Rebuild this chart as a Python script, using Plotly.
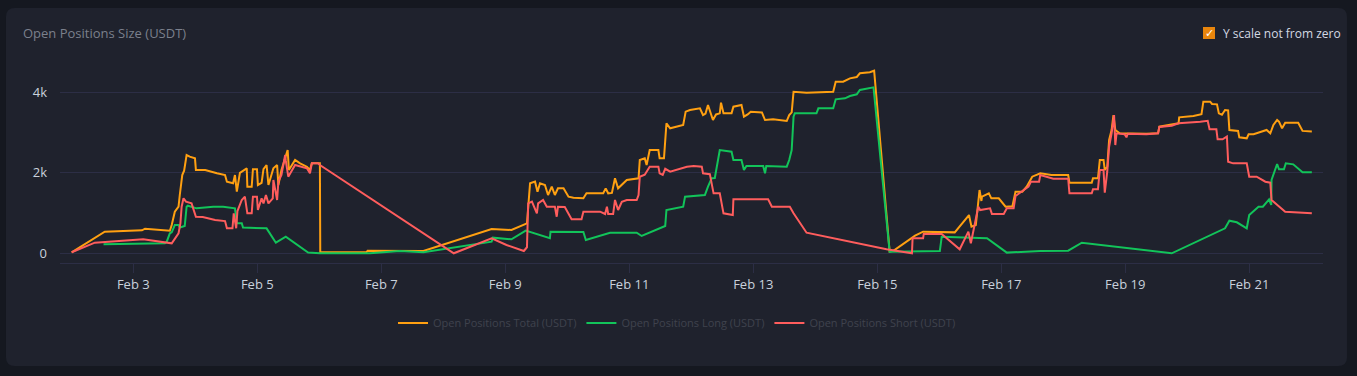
import numpy as np
import pandas as pd
import plotly.graph_objects as go

# ---------------- data (day of February, value in USDT) ----------------
total_days = [2.006, 2.54, 3.14, 3.19, 3.59, 3.62, 3.67, 3.73, 3.75, 3.79, 3.82, 3.85, 3.86, 3.91, 3.995, 4.01,
              4.16, 4.35, 4.48, 4.51, 4.61, 4.64, 4.67, 4.72, 4.83, 4.84, 4.91, 4.93, 4.995, 5.01, 5.07, 5.10,
              5.15, 5.18, 5.26, 5.32, 5.34, 5.39, 5.45, 5.49, 5.51, 5.61, 5.69, 5.80, 5.85, 5.88, 5.98, 6.01,
              6.016, 6.76, 6.78, 7.30, 7.68, 8.78, 9.10, 9.35, 9.40, 9.48, 9.52, 9.56, 9.64, 9.69, 9.75, 9.80,
              9.85, 9.94, 10.02, 10.10, 10.26, 10.31, 10.58, 10.62, 10.66, 10.72, 10.77, 10.82, 10.88, 10.96,
              11.15, 11.17, 11.25, 11.28, 11.33, 11.47, 11.49, 11.56, 11.60, 11.66, 11.87, 11.91, 11.98, 12.14,
              12.19, 12.23, 12.27, 12.33, 12.35, 12.40, 12.46, 12.48, 12.52, 12.65, 12.68, 12.81, 12.85, 12.91,
              12.96, 13.14, 13.19, 13.32, 13.54, 13.58, 13.62, 13.65, 13.86, 14.29, 14.33, 14.45, 14.56, 14.67,
              14.72, 14.88, 14.95, 15.20, 15.26, 15.61, 15.74, 16.25, 16.48, 16.52, 16.59, 16.65, 16.68, 16.69,
              16.80, 16.84, 16.96, 17.07, 17.18, 17.23, 17.34, 17.41, 17.44, 17.50, 17.63, 17.81, 18.08, 18.10,
              18.46, 18.48, 18.56, 18.59, 18.65, 18.67, 18.71, 18.74, 18.78, 18.81, 18.84, 18.91, 19.34, 19.53,
              19.55, 19.75, 19.86, 19.87, 20.10, 20.23, 20.26, 20.37, 20.40, 20.48, 20.51, 20.56, 20.61, 20.66,
              20.68, 20.82, 20.84, 20.96, 20.99, 21.07, 21.28, 21.34, 21.39, 21.45, 21.48, 21.53, 21.58, 21.79,
              21.86, 22.01]
total_vals = [25, 537, 571, 611, 561, 703, 1033, 1158, 1448, 1945, 2052, 2400, 2442, 2400, 2360, 2069,
              2069, 1987, 1945, 1779, 1739, 1945, 1530, 2000, 2111, 1654, 1654, 2090, 2090, 1697, 1750, 2090,
              2193, 1697, 2111, 2193, 1697, 2069, 2400, 2566, 2069, 2318, 2235, 2151, 2069, 2235, 2235, 2235,
              25, 25, 65, 50, 57, 604, 580, 745, 1739, 1780, 1530, 1739, 1697, 1448, 1656, 1448,
              1614, 1614, 1407, 1380, 1366, 1490, 1490, 1614, 1490, 1500, 1863, 1614, 1700, 1821,
              1863, 2318, 2360, 2193, 2566, 2566, 2360, 2360, 3229, 3105, 3187, 3518, 3560, 3601,
              3435, 3470, 3684, 3394, 3311, 3450, 3477, 3742, 3477, 3477, 3643, 3684, 3394, 3450,
              3518, 3500, 3311, 3330, 3286, 3435, 3500, 4014, 3990, 4014, 4263, 4263, 4346, 4380,
              4471, 4500, 4536, 41, 60, 437, 537, 520, 951, 662, 700, 1572, 1300, 1407,
              1490, 1365, 1365, 1158, 1170, 1530, 1530, 1656, 1738, 1903, 1986, 1945, 1945, 1754,
              1754, 1862, 1862, 2318, 2318, 2069, 2150, 2814, 3063, 3435, 3063, 2980, 2970, 2980,
              3145, 3187, 3228, 3378, 3410, 3456, 3766, 3766, 3709, 3700, 3477, 3440, 3560, 3550,
              3063, 3041, 2881, 2856, 2958, 2958, 3063, 2980, 3187, 3311, 3270, 3104, 3245, 3245,
              3041, 3024]

long_days = [2.52, 3.51, 3.54, 3.59, 3.62, 3.67, 3.73, 3.75, 3.83, 3.86, 3.88, 4.02, 4.29, 4.45, 4.64, 4.67,
             4.75, 4.77, 5.15, 5.30, 5.46, 5.82, 6.01, 6.82, 7.30, 7.68, 8.78, 8.80, 9.10, 9.33, 9.72, 9.73,
             10.26, 10.30, 10.69, 11.12, 11.20, 11.58, 11.60, 11.87, 11.90, 12.22, 12.27, 12.33, 12.38, 12.46,
             12.65, 12.68, 12.81, 12.85, 12.89, 13.16, 13.19, 13.21, 13.54, 13.58, 13.62, 13.65, 13.67, 14.02,
             14.05, 14.29, 14.33, 14.48, 14.56, 14.67, 14.72, 14.94, 15.20, 15.56, 16.01, 16.04, 16.55, 16.77,
             17.09, 17.63, 18.08, 18.30, 19.75, 20.61, 20.68, 20.80, 20.96, 21.00, 21.15, 21.22, 21.32, 21.355,
             21.36, 21.45, 21.48, 21.56, 21.59, 21.71, 21.86, 22.01]
long_vals = [224, 248, 290, 497, 520, 703, 703, 641, 680, 1158, 1183, 1117, 1158, 1158, 1117, 745,
             745, 641, 620, 264, 413, 17, 0, 0, 58, 25, 290, 389, 348, 563, 373, 538,
             530, 330, 512, 512, 430, 678, 1075, 1158, 1407, 1448, 1655, 1863, 1870, 2566,
             2525, 2318, 2318, 2069, 2168, 2168, 1987, 2168, 2152, 2318, 2566, 3394, 3477, 3477,
             3601, 3601, 3825, 3850, 3907, 3950, 4057, 4123, 41, 41, 58, 413, 397, 373,
             17, 60, 66, 264, 0, 621, 811, 770, 621, 951, 1158, 1158, 1341, 1200,
             1821, 2218, 2085, 2085, 2235, 2210, 2011, 2011]

short_days = [2.006, 2.38, 3.16, 3.62, 3.73, 3.76, 3.78, 3.81, 3.85, 3.94, 4.01, 4.12, 4.32, 4.48, 4.51, 4.60,
              4.62, 4.66, 4.68, 4.75, 4.80, 4.84, 4.91, 4.93, 4.995, 5.01, 5.07, 5.10, 5.14, 5.18, 5.25, 5.26,
              5.32, 5.34, 5.39, 5.45, 5.46, 5.50, 5.61, 5.80, 5.85, 5.88, 5.98, 6.01, 8.17, 8.78, 9.02, 9.30,
              9.35, 9.37, 9.43, 9.51, 9.53, 9.61, 9.67, 9.80, 9.83, 9.85, 9.96, 10.07, 10.23, 10.26, 10.53,
              10.61, 10.64, 10.66, 10.74, 10.77, 10.82, 10.88, 10.96, 11.12, 11.15, 11.17, 11.25, 11.33, 11.47,
              11.49, 11.54, 11.58, 11.66, 11.82, 11.93, 12.04, 12.17, 12.19, 12.30, 12.36, 12.46, 12.52, 12.67,
              12.68, 13.24, 13.30, 13.59, 13.65, 13.86, 15.15, 15.56, 15.57, 15.74, 15.75, 16.04, 16.33, 16.47,
              16.51, 16.63, 16.66, 16.82, 16.85, 17.04, 17.09, 17.20, 17.23, 17.39, 17.44, 17.48, 17.61, 17.63,
              17.84, 18.08, 18.10, 18.46, 18.48, 18.56, 18.59, 18.65, 18.67, 18.71, 18.74, 18.78, 18.82, 18.84,
              18.86, 18.99, 19.02, 19.04, 19.34, 19.53, 19.55, 19.75, 19.86, 20.21, 20.33, 20.36, 20.47, 20.49,
              20.57, 20.64, 20.66, 20.74, 20.96, 21.00, 21.12, 21.26, 21.34, 21.36, 21.58, 22.01]
short_vals = [25, 264, 348, 248, 497, 745, 1158, 1366, 1282, 1241, 909, 900, 827, 800, 621, 621,
              993, 621, 1050, 1324, 1407, 993, 993, 1407, 1407, 1075, 1366, 1241, 1448, 1241, 1366, 1821,
              1324, 1780, 1945, 2442, 2300, 1903, 2193, 2111, 1987, 2235, 2235, 2193, 0, 373, 207, 57,
              150, 1242, 1282, 993, 1241, 1324, 1158, 1158, 909, 1158, 1150, 845, 845, 1034, 1034,
              976, 1158, 976, 976, 1324, 1075, 1280, 1324, 1324, 1448, 1903, 1950, 2152, 2152,
              1987, 1950, 2100, 2027, 2111, 2152, 2168, 2152, 1987, 1966, 1490, 1490, 993, 952,
              1341, 1341, 1158, 1158, 993, 512, 99, 0, 373, 373, 480, 480, 99, 537,
              248, 1158, 1075, 1117, 976, 976, 1117, 1117, 1423, 1614, 1656, 1780, 1780, 1945,
              1854, 1854, 1490, 1490, 1590, 1590, 2069, 2069, 1505, 2027, 2648, 2980, 3435, 2690,
              2980, 2960, 2880, 2970, 2958, 2980, 3140, 3170, 3228, 3270, 3290, 3080, 3080, 2832,
              2832, 2900, 2276, 2235, 2235, 1903, 1903, 1779, 1754, 1324, 1034, 993]

series_names = ["Open Positions Total (USDT)", "Open Positions Long (USDT)", "Open Positions Short (USDT)"]
series_colors = ["#ffa011", "#12c45a", "#ff5d5d"]

y_tick_vals = [0, 2000, 4000]
y_tick_text = ["0", "2k", "4k"]

month_start = pd.Timestamp("2024-02-01")


def to_time(days):
    return month_start + pd.to_timedelta(np.asarray(days, dtype=float) - 1.0, unit="D")


# ---------------- figure ----------------
W, H = 1357, 376
L, R, T, B = 60, 34, 60, 113
PW, PH = W - L - R, H - T - B

OUTER_BG = "#151820"
CARD_BG = "#1f222d"
GRID = "#2c2e45"
FONT = "Open Sans, Noto Sans, sans-serif"


def px2paper(x, y):
    return (x - L) / PW, (H - B - y) / PH


fig = go.Figure()
for days, vals, name, color in [
    (total_days, total_vals, series_names[0], series_colors[0]),
    (long_days, long_vals, series_names[1], series_colors[1]),
    (short_days, short_vals, series_names[2], series_colors[2]),
]:
    fig.add_trace(go.Scatter(x=to_time(days), y=vals, mode="lines", name=name,
                             line=dict(color=color, width=2)))

# rounded card
cx0, cy0, cx1, cy1, r = 6, 8, 1347, 366, 9


def P(x, y):
    a, b = px2paper(x, y)
    return f"{a:.5f},{b:.5f}"


path = (f"M {P(cx0 + r, cy0)} L {P(cx1 - r, cy0)} Q {P(cx1, cy0)} {P(cx1, cy0 + r)} "
        f"L {P(cx1, cy1 - r)} Q {P(cx1, cy1)} {P(cx1 - r, cy1)} "
        f"L {P(cx0 + r, cy1)} Q {P(cx0, cy1)} {P(cx0, cy1 - r)} "
        f"L {P(cx0, cy0 + r)} Q {P(cx0, cy0)} {P(cx0 + r, cy0)} Z")
shapes = [dict(type="path", xref="paper", yref="paper", path=path,
               fillcolor=CARD_BG, line=dict(width=0), layer="below")]

# checkbox
bx0, by0 = px2paper(1203, 39)
bx1, by1 = px2paper(1215, 27)
shapes.append(dict(type="rect", xref="paper", yref="paper", x0=bx0, y0=by0, x1=bx1, y1=by1,
                   fillcolor="#e8850c", line=dict(width=0), layer="above"))

tx, ty = px2paper(21, 33)
ckx, cky = px2paper(1209, 33)
lx, ly = px2paper(1221, 33)
annotations = [
    dict(text="Open Positions Size (USDT)", x=tx, y=ty, xref="paper", yref="paper",
         xanchor="left", yanchor="middle", showarrow=False,
         font=dict(family=FONT, size=13, color="#7b808c")),
    dict(text="✓", x=ckx, y=cky, xref="paper", yref="paper", xanchor="center", yanchor="middle",
         showarrow=False, font=dict(family="DejaVu Sans", size=11, color="#ffffff")),
    dict(text="Y scale not from zero", x=lx, y=ly, xref="paper", yref="paper",
         xanchor="left", yanchor="middle", showarrow=False,
         font=dict(family=FONT, size=12, color="#d3d9e3")),
]

legx, legy = px2paper(677, 323)

fig.update_layout(
    width=W, height=H,
    margin=dict(l=L, r=R, t=T, b=B, pad=0),
    paper_bgcolor=OUTER_BG, plot_bgcolor=CARD_BG,
    font=dict(family=FONT, color="#c9d1dc"),
    shapes=shapes, annotations=annotations,
    showlegend=True,
    legend=dict(orientation="h", x=legx, y=legy, xanchor="center", yanchor="middle",
                font=dict(family=FONT, size=11, color="#3f424d"), bgcolor="rgba(0,0,0,0)",
                itemwidth=30, tracegroupgap=0),
    xaxis=dict(
        type="date",
        range=[to_time([1.818])[0], to_time([22.19])[0]],
        tick0="2024-02-03", dtick=2 * 86400000, tickformat="%b %-d",
        showgrid=False, zeroline=False,
        showline=True, linecolor=GRID, linewidth=1,
        ticks="outside", ticklen=9, tickcolor=GRID, tickwidth=1,
        tickfont=dict(family=FONT, size=13, color="#c9d1dc"),
        fixedrange=True,
    ),
    yaxis=dict(
        range=[-241, 4802],
        tickvals=y_tick_vals, ticktext=y_tick_text,
        showgrid=True, gridcolor=GRID, gridwidth=1,
        zeroline=False, showline=False, ticks="",
        ticklabelstandoff=12,
        tickfont=dict(family=FONT, size=13, color="#c9d1dc"),
        fixedrange=True,
    ),
    hovermode="x unified",
)

fig.write_html("out.html", config={"displayModeBar": False},
               post_script="document.body.style.margin='0';document.body.style.background='#151820';")
